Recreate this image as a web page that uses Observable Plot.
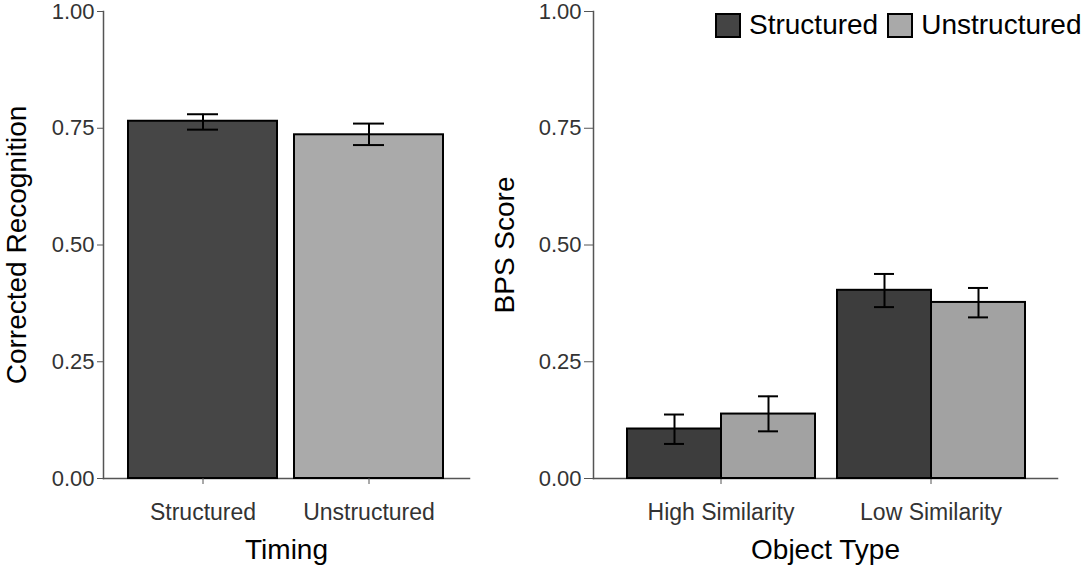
<!DOCTYPE html>
<html><head><meta charset="utf-8">
<script src="https://cdn.jsdelivr.net/npm/d3@7"></script>
<script src="https://cdn.jsdelivr.net/npm/@observablehq/plot@0.6"></script>
<style>
body{margin:0;background:#fff;font-family:"Liberation Sans",Arial,sans-serif;}
#wrap{position:relative;width:1084px;height:570px;overflow:hidden;background:#fff;}
#left{position:absolute;left:0;top:0;width:480px;height:570px;}
#right{position:absolute;left:480px;top:0;width:604px;height:570px;}
#rightBars{position:absolute;left:480px;top:0;width:604px;height:570px;}
#legend{position:absolute;left:715px;top:11px;display:flex;align-items:center;font-size:28px;line-height:28px;color:#000;white-space:nowrap;}
.sw{width:22px;height:21px;border:2px solid #000;margin-right:8px;}
.lab{margin-right:9px;}
</style></head>
<body><div id="wrap"><div id="left"></div><div id="right"></div><div id="rightBars"></div><div id="legend"></div></div>
<script>
// ---- data ----
const timingCategories = ["Structured", "Unstructured"];
const timingMeans = [0.765, 0.736];
const timingLower = [0.747, 0.714];
const timingUpper = [0.780, 0.760];

const objectTypes = ["High Similarity", "Low Similarity"];
const conditions = ["Structured", "Unstructured"];
const structuredMeans = [0.106, 0.403];
const structuredLower = [0.074, 0.367];
const structuredUpper = [0.137, 0.438];
const unstructuredMeans = [0.138, 0.377];
const unstructuredLower = [0.101, 0.345];
const unstructuredUpper = [0.176, 0.408];

const yTicks = [0, 0.25, 0.5, 0.75, 1];
const leftColors = ["#464646", "#aaaaaa"];
const rightColors = ["#3d3d3d", "#a2a2a2"];
const legendColors = ["#444444", "#a9a9a9"];

// ---- tables ----
const leftData = timingCategories.map((c, i) => ({cond: c, mean: timingMeans[i], lo: timingLower[i], hi: timingUpper[i]}));
const rightData = [];
objectTypes.forEach((g, i) => {
  rightData.push({group: g, cond: "Structured", mean: structuredMeans[i], lo: structuredLower[i], hi: structuredUpper[i]});
  rightData.push({group: g, cond: "Unstructured", mean: unstructuredMeans[i], lo: unstructuredLower[i], hi: unstructuredUpper[i]});
});

const font = "'Liberation Sans', Arial, sans-serif";
const baseStyle = {fontFamily: font, background: "transparent", overflow: "visible"};
const axisColor = "#555555";
const tickText = "#333333";
const fmt = d3.format(".2f");

// ---- left panel ----
const leftPlot = Plot.plot({
  width: 480, height: 570,
  marginLeft: 103, marginRight: 11, marginTop: 11, marginBottom: 92,
  style: baseStyle,
  x: {type: "band", domain: timingCategories, paddingInner: 0.1, paddingOuter: 0.15},
  y: {domain: [0, 1]},
  color: {domain: conditions, range: leftColors},
  marks: [
    Plot.frame({anchor: "left", stroke: axisColor, strokeWidth: 1.5}),
    Plot.frame({anchor: "bottom", stroke: axisColor, strokeWidth: 1.5}),
    Plot.barY(leftData, {x: "cond", y: "mean", fill: "cond", stroke: "#000", strokeWidth: 2}),
    Plot.ruleX(leftData, {x: "cond", y1: "lo", y2: "hi", stroke: "#000", strokeWidth: 2}),
    Plot.tickY(leftData, {x: "cond", y: "lo", stroke: "#000", strokeWidth: 2, insetLeft: 59, insetRight: 59}),
    Plot.tickY(leftData, {x: "cond", y: "hi", stroke: "#000", strokeWidth: 2, insetLeft: 59, insetRight: 59}),
    Plot.axisY({ticks: yTicks, tickFormat: fmt, tickSize: 6, tickPadding: 3, fontSize: 22, label: null, stroke: axisColor, fill: tickText}),
    Plot.axisX({tickSize: 6, tickPadding: 19, fontSize: 23, label: null, stroke: axisColor, fill: tickText}),
    Plot.text(["Corrected Recognition"], {text: d => d, frameAnchor: "left", textAnchor: "middle", rotate: -90, dx: -86, fontSize: 28, fill: "#000"}),
    Plot.text(["Timing"], {text: d => d, frameAnchor: "bottom", dy: 80, fontSize: 28, fill: "#000"})
  ]
});
document.getElementById("left").appendChild(leftPlot);

// ---- right panel: axes layer ----
const rightAxes = Plot.plot({
  width: 604, height: 570,
  marginLeft: 113, marginRight: 27, marginTop: 11, marginBottom: 92,
  style: baseStyle,
  x: {type: "band", domain: objectTypes, paddingInner: 0.1, paddingOuter: 0.15},
  y: {domain: [0, 1]},
  marks: [
    Plot.frame({anchor: "left", stroke: axisColor, strokeWidth: 1.5}),
    Plot.frame({anchor: "bottom", stroke: axisColor, strokeWidth: 1.5}),
    Plot.axisY({ticks: yTicks, tickFormat: fmt, tickSize: 9, tickPadding: 3, fontSize: 22, label: null, stroke: axisColor, fill: tickText}),
    Plot.axisX({tickSize: 6, tickPadding: 19, fontSize: 23, label: null, stroke: axisColor, fill: tickText}),
    Plot.text(["BPS Score"], {text: d => d, frameAnchor: "left", textAnchor: "middle", rotate: -90, dx: -88, fontSize: 28, fill: "#000"}),
    Plot.text(["Object Type"], {text: d => d, frameAnchor: "bottom", dy: 80, fontSize: 28, fill: "#000"})
  ]
});
document.getElementById("right").appendChild(rightAxes);

// ---- right panel: bars layer (faceted by object type) ----
const rightBars = Plot.plot({
  width: 604, height: 570,
  marginLeft: 113, marginRight: 27, marginTop: 11, marginBottom: 92,
  style: baseStyle,
  facet: {data: rightData, x: "group"},
  fx: {domain: objectTypes, paddingInner: 0.1, paddingOuter: 0.15, axis: null, label: null},
  x: {domain: conditions, padding: 0, axis: null},
  y: {domain: [0, 1], axis: null},
  color: {domain: conditions, range: rightColors},
  marks: [
    Plot.barY(rightData, {x: "cond", y: "mean", fill: "cond", stroke: "#000", strokeWidth: 2}),
    Plot.ruleX(rightData, {x: "cond", y1: "lo", y2: "hi", stroke: "#000", strokeWidth: 2}),
    Plot.tickY(rightData, {x: "cond", y: "lo", stroke: "#000", strokeWidth: 2, insetLeft: 37, insetRight: 37}),
    Plot.tickY(rightData, {x: "cond", y: "hi", stroke: "#000", strokeWidth: 2, insetLeft: 37, insetRight: 37})
  ]
});
document.getElementById("rightBars").appendChild(rightBars);

// ---- legend ----
const legend = document.getElementById("legend");
conditions.forEach((c, i) => {
  const sw = document.createElement("div");
  sw.className = "sw";
  sw.style.background = legendColors[i];
  const lab = document.createElement("span");
  lab.className = "lab";
  lab.textContent = c;
  legend.appendChild(sw);
  legend.appendChild(lab);
});
</script>
</body></html>
